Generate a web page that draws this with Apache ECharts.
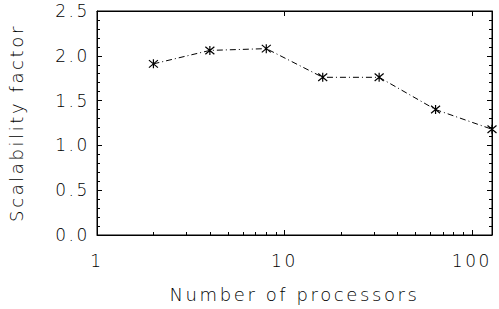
<!DOCTYPE html>
<html>
<head>
<meta charset="utf-8">
<script src="https://cdn.jsdelivr.net/npm/echarts@6/dist/echarts.min.js"></script>
<style>
  html, body { margin: 0; padding: 0; background: #fff; }
  #chart { width: 499px; height: 309px; }
  /* the original lettering is wide and airy */
  #chart text { letter-spacing: 2.6px; }
</style>
</head>
<body>
<div id="chart"></div>
<script>
  // processors vs scalability
  const processors = [2, 4, 8, 16, 32, 64, 128];
  const scalability = [1.91, 2.06, 2.08, 1.76, 1.76, 1.40, 1.18];

  const xName = 'Number of processors';
  const yName = 'Scalability factor';

  const chart = echarts.init(document.getElementById('chart'), null, {renderer: 'svg'});

  const font = 'DejaVu Sans';
  const ink = '#000';
  // asterisk marker, drawn as strokes
  const star = 'path://M0 0L10 10M10 0L0 10M5 -1L5 11';

  const axisLine = {show: true, onZero: false, lineStyle: {color: ink, width: 1}};
  const tick = {show: true, inside: true, length: 5, lineStyle: {color: ink}};
  const minor = {show: true, splitNumber: 5, length: 3, lineStyle: {color: ink}};
  const logMinor = {show: true, splitNumber: 9, length: 3, lineStyle: {color: ink}};

  const points = processors.map((p, i) => [p, scalability[i]]);

  chart.setOption({
    animation: false,
    grid: {
      left: 97, right: 7, top: 11, bottom: 74,
      outerBoundsMode: 'none',
      show: true, borderColor: ink, borderWidth: 1
    },
    xAxis: [
      {
        type: 'log',
        logBase: 10,
        min: 1,
        max: 128,
        name: xName,
        nameLocation: 'middle',
        nameGap: 50,
        nameTextStyle: {fontFamily: font, fontSize: 18, fontWeight: 200, color: ink},
        axisLine: axisLine,
        axisTick: tick,
        minorTick: logMinor,
        splitLine: {show: false},
        axisLabel: {fontFamily: font, fontSize: 17, fontWeight: 200, color: ink, margin: 17}
      },
      {
        type: 'log',
        logBase: 10,
        min: 1,
        max: 128,
        position: 'top',
        axisLine: axisLine,
        axisTick: tick,
        splitLine: {show: false},
        axisLabel: {show: false}
      }
    ],
    yAxis: [
      {
        type: 'value',
        min: 0,
        max: 2.5,
        interval: 0.5,
        name: yName,
        nameLocation: 'middle',
        nameGap: 72,
        nameTextStyle: {fontFamily: font, fontSize: 18, fontWeight: 200, color: ink},
        axisLine: axisLine,
        axisTick: tick,
        minorTick: minor,
        splitLine: {show: false},
        axisLabel: {
          fontFamily: font, fontSize: 17, fontWeight: 200, color: ink, margin: 7,
          formatter: v => v.toFixed(1)
        }
      },
      {
        type: 'value',
        min: 0,
        max: 2.5,
        interval: 0.5,
        position: 'right',
        axisLine: axisLine,
        axisTick: tick,
        minorTick: minor,
        splitLine: {show: false},
        axisLabel: {show: false}
      }
    ],
    series: [
      {
        type: 'line',
        data: points,
        symbol: star,
        symbolSize: 9,
        showAllSymbol: true,
        clip: false,
        lineStyle: {color: ink, width: 1, type: [6, 3, 1, 3]},
        itemStyle: {color: ink, borderColor: ink, borderWidth: 1.2}
      },
      {
        // keeps the top/right frame axes alive, draws nothing
        type: 'line',
        xAxisIndex: 1,
        yAxisIndex: 1,
        data: points,
        symbol: 'none',
        silent: true,
        lineStyle: {opacity: 0}
      }
    ]
  });
</script>
</body>
</html>
